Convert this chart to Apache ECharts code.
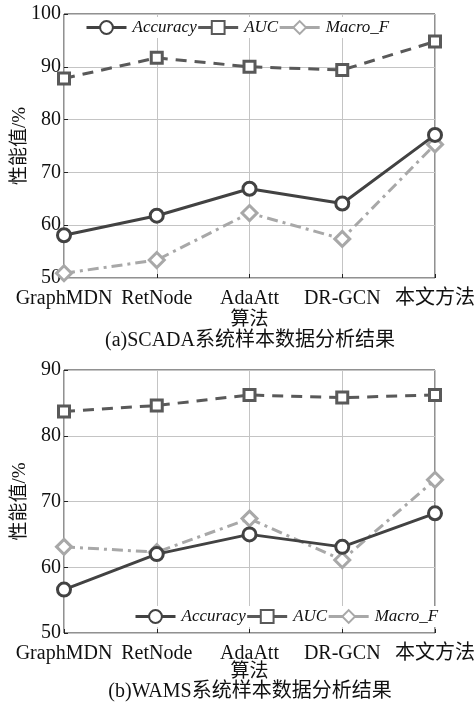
<!DOCTYPE html>
<html><head><meta charset="utf-8">
<script src="https://cdn.jsdelivr.net/npm/echarts@6/dist/echarts.min.js"></script>
<style>html,body{margin:0;padding:0;background:#fff}#c{width:475px;height:706px}</style>
</head><body><div id="c"></div>
<script>
const categories = ['GraphMDN','RetNode','AdaAtt','DR-GCN','本文方法'];
const seriesNames = ['Accuracy','AUC','Macro_F'];
// (a) SCADA
const scadaAccuracy = [58.1, 61.8, 66.9, 64.1, 77.1];
const scadaAUC = [87.8, 91.7, 90.0, 89.4, 94.8];
const scadaMacroF = [50.9, 53.4, 62.3, 57.4, 75.3];
// (b) WAMS
const wamsAccuracy = [56.6, 62.0, 65.0, 63.1, 68.2];
const wamsAUC = [83.7, 84.6, 86.2, 85.8, 86.2];
const wamsMacroF = [63.1, 62.3, 67.4, 61.1, 73.3];
const yTicksA = {min: 50, max: 100, interval: 10};
const yTicksB = {min: 50, max: 90, interval: 10};
const titleA = '(a)SCADA系统样本数据分析结果';
const titleB = '(b)WAMS系统样本数据分析结果';
const xName = '算法';
const yName = '性能值/%';

const SERIF = '"Liberation Serif","DejaVu Serif","Noto Sans CJK SC",serif';
const styles = [
  {color:'#424242', type:'solid', symbol:'circle', size:13},
  {color:'#595959', type:[11,8], symbol:'rect', size:11},
  {color:'#a8a8a8', type:[11,5,3,5], symbol:'diamond', size:15}
];
function mkSeries(vals, gi){
  return vals.map((v,i)=>({
    name: seriesNames[i], type:'line', xAxisIndex:gi, yAxisIndex:gi,
    data: v, symbol: styles[i].symbol, symbolSize: styles[i].size,
    showAllSymbol:true,
    lineStyle:{color:styles[i].color, width:3, type:styles[i].type},
    itemStyle:{color:'#fff', borderColor:styles[i].color, borderWidth:3},
    z: 10 - i
  }));
}
function xAx(gi, gap){
  return {type:'category', gridIndex:gi, data:categories, boundaryGap:false,
    name:xName, nameLocation:'middle', nameGap:gap, nameMoveOverlap:false,
    nameTextStyle:{fontFamily:SERIF, fontSize:19, color:'#111'},
    axisLine:{show:false},
    axisTick:{show:true, inside:true, length:4, alignWithLabel:true, lineStyle:{color:'#222'}},
    axisLabel:{fontFamily:SERIF, fontSize:20, color:'#111', margin:11, interval:0},
    splitLine:{show:true, lineStyle:{color:'#c4c4c4', width:1}}};
}
function yAx(gi, t){
  return {type:'value', gridIndex:gi, min:t.min, max:t.max, interval:t.interval,
    name:yName, nameLocation:'middle', nameGap:34, nameMoveOverlap:false,
    nameTextStyle:{fontFamily:SERIF, fontSize:19, color:'#111'},
    axisLine:{show:false},
    axisTick:{show:true, inside:true, length:4, lineStyle:{color:'#222'}},
    axisLabel:{fontFamily:SERIF, fontSize:20, color:'#111', margin:3},
    splitLine:{show:true, lineStyle:{color:'#c4c4c4', width:1}}};
}
const legendBase = {
  data: seriesNames, itemWidth:40, itemHeight:16, itemGap:0,
  lineStyle:{type:'solid', width:3},
  textStyle:{fontFamily:SERIF, fontStyle:'italic', fontSize:17, color:'#111', padding:[0,4,0,1]},
  backgroundColor:'#fff', padding:[2,2]
};
const gridBase = {left:64, right:40, show:true, borderColor:'#222', borderWidth:1,
  backgroundColor:'transparent', containLabel:false, outerBoundsMode:'none'};
const chart = echarts.init(document.getElementById('c'));
chart.setOption({
  animation:false,
  grid:[
    Object.assign({top:14, height:264}, gridBase),
    Object.assign({top:370, height:263}, gridBase)
  ],
  legend:[
    Object.assign({left:83, top:17}, legendBase),
    Object.assign({left:132, top:606}, legendBase)
  ],
  title:[
    {text:titleA, left:250, textAlign:'center', top:331, padding:0, textStyle:{fontFamily:SERIF, fontSize:20, fontWeight:'normal', color:'#111'}},
    {text:titleB, left:250, textAlign:'center', top:682, padding:0, textStyle:{fontFamily:SERIF, fontSize:20, fontWeight:'normal', color:'#111'}}
  ],
  xAxis:[xAx(0, 33), xAx(1, 30)],
  yAxis:[yAx(0, yTicksA), yAx(1, yTicksB)],
  series:[...mkSeries([scadaAccuracy, scadaAUC, scadaMacroF], 0), ...mkSeries([wamsAccuracy, wamsAUC, wamsMacroF], 1)]
});
</script></body></html>
